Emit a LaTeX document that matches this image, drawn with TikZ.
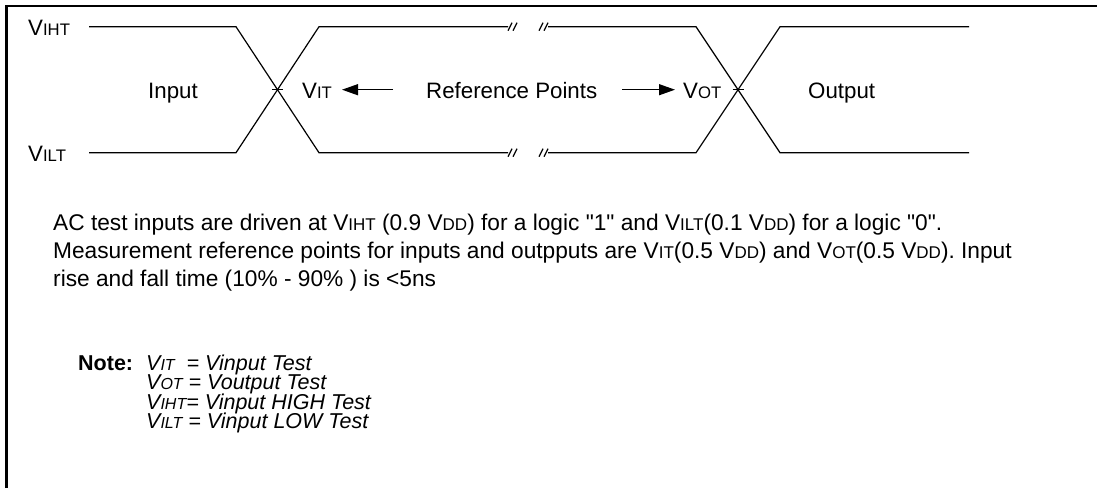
\documentclass[tikz,border=0pt]{standalone}
\usepackage{fontspec}
\setmainfont{Liberation Sans}[Ligatures=TeXOff]
\usetikzlibrary{arrows.meta}
\newcommand{\sm}[1]{{\fontsize{16.7}{16.7}\selectfont #1}}
\newcommand{\smb}[1]{{\fontsize{17}{17}\selectfont #1}}
\newcommand{\smn}[1]{{\fontsize{16}{16}\selectfont #1}}
\tikzset{
  frame/.style={line width=2.4pt},
  wave/.style={line width=1.2pt},
  brk/.style={line width=1.2pt},
  arr/.style={line width=1.2pt,-{Triangle[length=16pt,width=11pt]}},
  lbl/.style={inner sep=0pt,font=\fontsize{22.3}{26}\selectfont},
  body/.style={inner sep=0pt,font=\fontsize{22.7}{28}\selectfont},
  notel/.style={inner sep=0pt,text height=12pt,text depth=3pt,font=\fontsize{21.5}{19}\selectfont\itshape},
}
\begin{document}
\begin{tikzpicture}[x=1pt,y=-1pt]
\useasboundingbox (0,0) rectangle (1097,488);
\fill[white] (0,0) rectangle (1097,488);
% frame
\coordinate (fb) at (6.5,488);
\coordinate (fc) at (6.5,6.2);
\coordinate (fr) at (1097,6.2);
\draw[frame] (fb) -- (fc) -- (fr);
% waveform coordinates
\def\yh{26.7}\def\yl{152.7}
\coordinate (h0) at (89,\yh);  \coordinate (l0) at (89,\yl);
\coordinate (h1) at (236,\yh); \coordinate (l1) at (236,\yl);
\coordinate (h2) at (319,\yh); \coordinate (l2) at (319,\yl);
\coordinate (hb1) at (508,\yh); \coordinate (lb1) at (508,\yl);
\coordinate (hb2) at (548,\yh); \coordinate (lb2) at (548,\yl);
\coordinate (h3) at (696,\yh); \coordinate (l3) at (696,\yl);
\coordinate (h4) at (780,\yh); \coordinate (l4) at (780,\yl);
\coordinate (h5) at (969,\yh); \coordinate (l5) at (969,\yl);
\coordinate (x1) at (277.5,89.7);
\coordinate (x2) at (738,89.7);
\draw[wave] (h0) -- (h1) -- (l2) -- (lb1);
\draw[wave] (l0) -- (l1) -- (h2) -- (hb1);
\draw[wave] (hb2) -- (h3) -- (l4) -- (l5);
\draw[wave] (lb2) -- (l3) -- (h4) -- (h5);
% crossing ticks
\draw[wave] (x1) ++(-5.5,0) -- ++(11,0);
\draw[wave] (x2) ++(-5.5,0) -- ++(11,0);
% break marks
\foreach \y in {\yh,\yl}{
  \foreach \x in {508,513,539,544}{
    \draw[brk] (\x,\y+4) -- (\x+4,\y-4);
  }
}
% labels
\node[lbl,anchor=base west] (viht) at (28,35) {V\sm{IHT}};
\node[lbl,anchor=base west] (vilt) at (28,161) {V\sm{ILT}};
\node[lbl,anchor=base] (inp) at (173,98) {Input};
\node[lbl,anchor=base west] (vit) at (302,98) {V\sm{IT}};
\node[lbl,anchor=base west] (ref) at (426,98) {Reference Points};
\node[lbl,anchor=base west] (vot) at (683,98) {V\sm{OT}};
\node[lbl,anchor=base west] (outp) at (808,98) {Output};
% arrows
\coordinate (a1s) at (393,89.7); \coordinate (a1e) at (342,89.7);
\coordinate (a2s) at (622,89.7); \coordinate (a2e) at (675,89.7);
\draw[arr] (a1s) -- (a1e);
\draw[arr] (a2s) -- (a2e);
% body text
\node[body,anchor=base west] (b1) at (53,230) {AC test inputs are driven at V\smb{IHT} (0.9 V\smb{DD}) for a logic "1" and V\smb{ILT}(0.1 V\smb{DD}) for a logic "0".};
\node[body,anchor=base west] (b2) at (53,258) {Measurement reference points for inputs and outpputs are V\smb{IT}(0.5 V\smb{DD}) and V\smb{OT}(0.5 V\smb{DD}). Input};
\node[body,anchor=base west] (b3) at (53,286) {rise and fall time (10\% - 90\% ) is <5ns};
% note
\node[lbl,anchor=base west,font=\fontsize{21.5}{26}\selectfont\bfseries] (note) at (78,370) {Note:};
\node[notel,anchor=base west] (n1) at (146,370) {V\smn{IT}\ \ = Vinput Test};
\node[notel,anchor=base west] (n2) at (146,389.5) {V\smn{OT} = Voutput Test};
\node[notel,anchor=base west] (n3) at (146,409) {V\smn{IHT}= Vinput HIGH Test};
\node[notel,anchor=base west] (n4) at (146,428.5) {V\smn{ILT} = Vinput LOW Test};
\end{tikzpicture}
\end{document}
